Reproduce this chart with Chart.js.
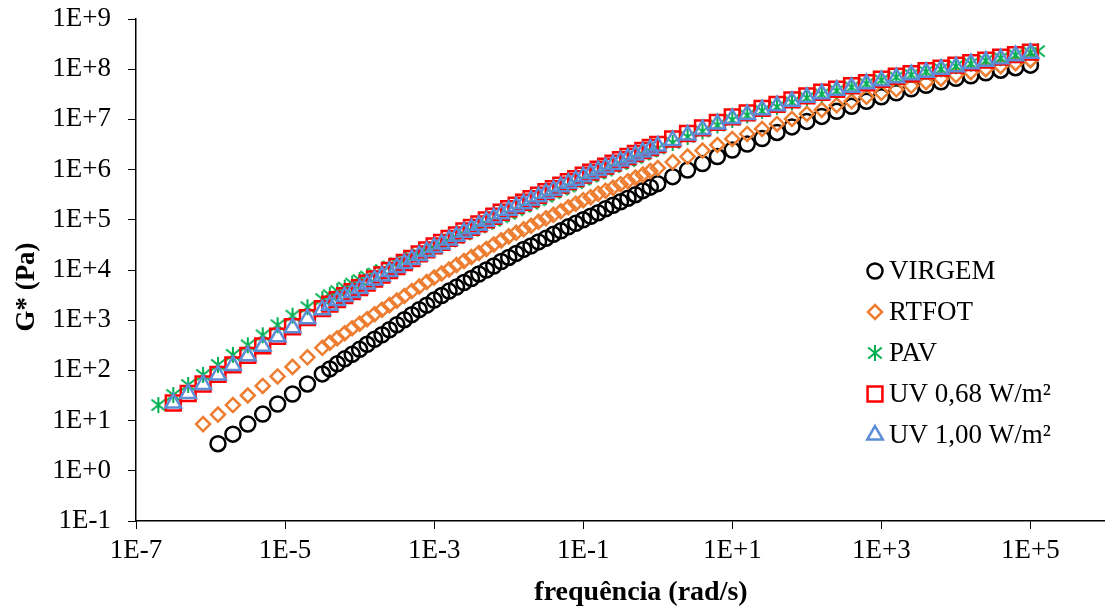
<!DOCTYPE html>
<html>
<head>
<meta charset="utf-8">
<title>G* master curves</title>
<script src="https://cdn.jsdelivr.net/npm/chart.js@4.4.1/dist/chart.umd.min.js"></script>
<style>
  html, body { margin: 0; padding: 0; background: #fff; overflow: hidden; }
  #wrap { position: relative; width: 1105px; height: 614px; }
  canvas { display: block; }
</style>
</head>
<body>
<div id="wrap"><canvas id="gChart"></canvas></div>
<script>
// values are log10 of frequency (rad/s) and log10 of G* (Pa)
const logFreqMid = [-4.4,-4.3,-4.2,-4.1,-4,-3.9,-3.8,-3.7,-3.6,-3.5,-3.4,-3.3,-3.2,-3.1,-3,-2.9,-2.8,-2.7,-2.6,-2.5,-2.4,-2.3,-2.2,-2.1,-2,-1.9,-1.8,-1.7,-1.6,-1.5,-1.4,-1.3,-1.2,-1.1,-1,-0.9,-0.8,-0.7,-0.6,-0.5,-0.4,-0.3,-0.2,-0.1,0];
const logFreqHigh = [0.2,0.4,0.6,0.8,1,1.2,1.4,1.6,1.8,2,2.2,2.4,2.6,2.8,3,3.2,3.4,3.6,3.8,4,4.2,4.4,4.6,4.8,5];
const logFreqHighPav = [0.2,0.4,0.6,0.8,1,1.2,1.4,1.6,1.8,2,2.2,2.4,2.6,2.8,3,3.2,3.4,3.6,3.8,4,4.2,4.4,4.6,4.8,5,5.1];

const logFreqVirgemLow = [-5.9,-5.7,-5.5,-5.3,-5.1,-4.9,-4.7,-4.5];
const logFreqRtfotLow = [-6.1,-5.9,-5.7,-5.5,-5.3,-5.1,-4.9,-4.7,-4.5];
const logFreqPavLow = [-6.7,-6.5,-6.3,-6.1,-5.9,-5.7,-5.5,-5.3,-5.1,-4.9,-4.7,-4.5];
const logFreqUvLow = [-6.5,-6.3,-6.1,-5.9,-5.7,-5.5,-5.3,-5.1,-4.9,-4.7,-4.5];

const logGVirgem = [0.54,0.73,0.93,1.13,1.33,1.53,1.73,1.93,
  2.03,2.13,2.23,2.32,2.42,2.52,2.62,2.71,2.81,2.91,3.01,3.11,3.21,3.30,3.40,3.49,3.58,3.66,3.75,3.83,3.92,4.00,4.08,4.17,4.25,4.33,4.41,4.48,4.56,4.63,4.71,4.78,4.86,4.93,5.00,5.07,5.14,5.22,5.29,5.36,5.43,5.50,5.58,5.65,5.72,
  5.86,5.99,6.12,6.26,6.39,6.51,6.62,6.74,6.85,6.96,7.06,7.16,7.26,7.36,7.45,7.53,7.61,7.68,7.75,7.82,7.87,7.93,7.98,8.03,8.08];
const logGRtfot = [0.93,1.12,1.31,1.50,1.69,1.88,2.07,2.26,2.45,
  2.55,2.64,2.74,2.84,2.93,3.02,3.12,3.21,3.30,3.39,3.48,3.58,3.67,3.76,3.85,3.93,4.01,4.10,4.18,4.26,4.34,4.42,4.51,4.59,4.67,4.74,4.81,4.88,4.96,5.03,5.10,5.17,5.25,5.32,5.39,5.45,5.52,5.58,5.64,5.71,5.77,5.84,5.90,5.97,6.03,
  6.15,6.26,6.38,6.49,6.61,6.71,6.81,6.91,7.01,7.11,7.19,7.28,7.36,7.45,7.53,7.60,7.67,7.74,7.81,7.88,7.94,8.00,8.06,8.12,8.18];
const logGPav = [1.31,1.51,1.71,1.91,2.11,2.31,2.50,2.70,2.90,3.09,3.26,3.42,
  3.50,3.58,3.65,3.73,3.80,3.87,3.93,4.00,4.07,4.13,4.19,4.25,4.31,4.37,4.43,4.50,4.57,4.64,4.71,4.78,4.85,4.92,4.98,5.05,5.12,5.19,5.26,5.32,5.39,5.46,5.53,5.60,5.66,5.73,5.80,5.86,5.92,5.98,6.05,6.11,6.17,6.23,6.30,6.36,6.42,
  6.53,6.65,6.76,6.88,6.99,7.08,7.17,7.25,7.34,7.43,7.50,7.57,7.64,7.71,7.78,7.84,7.89,7.95,8.00,8.06,8.11,8.17,8.22,8.28,8.33,8.36];
const logGUv068 = [1.35,1.54,1.73,1.92,2.11,2.30,2.49,2.68,2.87,3.05,3.23,
  3.32,3.41,3.49,3.57,3.65,3.74,3.82,3.90,3.99,4.07,4.15,4.23,4.32,4.40,4.48,4.55,4.63,4.70,4.78,4.85,4.92,5.00,5.07,5.15,5.22,5.29,5.35,5.42,5.49,5.56,5.62,5.69,5.76,5.82,5.89,5.95,6.01,6.07,6.13,6.20,6.26,6.32,6.38,6.44,6.50,
  6.61,6.72,6.83,6.94,7.05,7.13,7.22,7.30,7.39,7.47,7.54,7.60,7.67,7.73,7.80,7.86,7.91,7.97,8.02,8.08,8.13,8.18,8.24,8.29,8.34];
const logGUv100 = [1.35,1.54,1.72,1.91,2.10,2.29,2.48,2.67,2.85,3.03,3.21,
  3.30,3.39,3.47,3.55,3.63,3.72,3.80,3.88,3.97,4.05,4.13,4.21,4.29,4.37,4.45,4.52,4.60,4.67,4.75,4.82,4.89,4.97,5.04,5.12,5.19,5.26,5.32,5.39,5.46,5.53,5.59,5.66,5.73,5.79,5.86,5.92,5.98,6.04,6.10,6.17,6.23,6.29,6.35,6.41,6.47,
  6.58,6.69,6.80,6.91,7.02,7.10,7.19,7.27,7.36,7.44,7.51,7.58,7.64,7.71,7.77,7.83,7.89,7.94,8.00,8.05,8.11,8.16,8.21,8.27,8.32];

const seriesNames = ['VIRGEM', 'RTFOT', 'PAV', 'UV 0,68 W/m²', 'UV 1,00 W/m²'];
const yTickExps = [-1, 0, 1, 2, 3, 4, 5, 6, 7, 8, 9];
const xTickExps = [-7, -5, -3, -1, 1, 3, 5];
const xTitle = 'frequência (rad/s)';
const yTitle = 'G* (Pa)';

const FONT = '"Liberation Serif", "Times New Roman", serif';

function toPoints(logF, logG) {
  const n = Math.min(logF.length, logG.length);
  const pts = [];
  for (let i = 0; i < n; i++) {
    pts.push({ x: Math.pow(10, logF[i]), y: Math.pow(10, logG[i]) });
  }
  return pts;
}

function expLabel(v) {
  const e = Math.round(Math.log10(v));
  return '1E' + (e >= 0 ? '+' : '-') + Math.abs(e);
}

// excel style asterisk: vertical bar plus an X
function makeAsterisk(color, size, lw) {
  const c = document.createElement('canvas');
  c.width = size;
  c.height = size;
  const g = c.getContext('2d');
  const m = size / 2, r = size / 2 - 1;
  g.strokeStyle = color;
  g.lineWidth = lw;
  g.beginPath();
  g.moveTo(m, m - r); g.lineTo(m, m + r);
  g.moveTo(m - r * 0.85, m - r * 0.7); g.lineTo(m + r * 0.85, m + r * 0.7);
  g.moveTo(m - r * 0.85, m + r * 0.7); g.lineTo(m + r * 0.85, m - r * 0.7);
  g.stroke();
  return c;
}

const asterisk = makeAsterisk('#00B050', 18, 2);

const datasets = [
  { label: seriesNames[0], data: toPoints(logFreqVirgemLow.concat(logFreqMid, logFreqHigh), logGVirgem),
    pointStyle: 'circle', pointRadius: 7.5, borderColor: '#000000', order: 5 },
  { label: seriesNames[1], data: toPoints(logFreqRtfotLow.concat(logFreqMid, logFreqHigh), logGRtfot),
    pointStyle: 'rectRot', pointRadius: 7, borderColor: '#ED7D31', order: 4 },
  { label: seriesNames[2], data: toPoints(logFreqPavLow.concat(logFreqMid, logFreqHighPav), logGPav),
    pointStyle: asterisk, pointRadius: 8, borderColor: '#00B050', order: 3 },
  { label: seriesNames[3], data: toPoints(logFreqUvLow.concat(logFreqMid, logFreqHigh), logGUv068),
    pointStyle: 'rect', pointRadius: 10.5, borderColor: '#FF0000', order: 2 },
  { label: seriesNames[4], data: toPoints(logFreqUvLow.concat(logFreqMid, logFreqHigh), logGUv100),
    pointStyle: 'triangle', pointRadius: 9, borderColor: '#5B8ED6', order: 1 }
].map(ds => Object.assign(ds, {
  backgroundColor: 'rgba(0,0,0,0)',
  pointBorderWidth: 2.5,
  pointHoverRadius: ds.pointRadius,
  showLine: false
}));

function drawMarker(ctx, ds, x, y) {
  const r = ds.pointRadius;
  ctx.save();
  ctx.strokeStyle = ds.borderColor;
  ctx.lineWidth = ds.pointBorderWidth;
  ctx.beginPath();
  if (ds.pointStyle === 'circle') {
    ctx.arc(x, y, r, 0, Math.PI * 2);
  } else if (ds.pointStyle === 'rectRot') {
    ctx.moveTo(x, y - r); ctx.lineTo(x + r, y); ctx.lineTo(x, y + r); ctx.lineTo(x - r, y); ctx.closePath();
  } else if (ds.pointStyle === 'rect') {
    const s = r * Math.SQRT1_2;
    ctx.rect(x - s, y - s, 2 * s, 2 * s);
  } else if (ds.pointStyle === 'triangle') {
    ctx.moveTo(x, y - r);
    ctx.lineTo(x + r * 0.866, y + r * 0.5);
    ctx.lineTo(x - r * 0.866, y + r * 0.5);
    ctx.closePath();
  } else {
    ctx.drawImage(ds.pointStyle, x - ds.pointStyle.width / 2, y - ds.pointStyle.height / 2);
  }
  ctx.stroke();
  ctx.restore();
}

// legend sits inside the plot, axis titles are placed where excel put them
const legendAndTitles = {
  id: 'legendAndTitles',
  afterDraw(chart) {
    const ctx = chart.ctx;
    ctx.save();
    ctx.font = '27px ' + FONT;
    ctx.textBaseline = 'middle';
    ctx.fillStyle = '#000';
    chart.data.datasets.forEach((ds, i) => {
      const y = 271 + i * 41;
      drawMarker(ctx, ds, 875, y);
      ctx.fillText(ds.label, 889, y + 1);
    });

    ctx.textAlign = 'center';
    ctx.font = 'bold 28px ' + FONT;
    ctx.fillText(xTitle, 641, 593);

    ctx.translate(27, 287);
    ctx.rotate(-Math.PI / 2);
    ctx.font = 'bold 27px ' + FONT;
    ctx.fillText(yTitle, 0, 0);
    ctx.restore();
  }
};

new Chart(document.getElementById('gChart'), {
  type: 'scatter',
  data: { datasets: datasets },
  plugins: [legendAndTitles],
  options: {
    responsive: true,
    maintainAspectRatio: false,
    animation: false,
    events: [],
    layout: { autoPadding: false, padding: { top: 19, right: 0, bottom: 0, left: 0 } },
    plugins: { legend: { display: false }, tooltip: { enabled: false } },
    scales: {
      x: {
        type: 'logarithmic',
        min: 1e-7,
        max: 1e6,
        afterBuildTicks: s => { s.ticks = xTickExps.map(e => ({ value: Math.pow(10, e) })); },
        afterFit: s => { s.height = 93; s.paddingLeft = 0; s.paddingRight = 0; },
        grid: { drawOnChartArea: false, drawTicks: true, tickLength: 8, color: '#000' },
        border: { display: true, color: '#000', width: 1.5 },
        ticks: {
          autoSkip: false, maxRotation: 0, padding: 6, color: '#000',
          font: { family: FONT, size: 27 },
          callback: v => expLabel(v)
        }
      },
      y: {
        type: 'logarithmic',
        min: 0.1,
        max: 1e9,
        afterBuildTicks: s => { s.ticks = yTickExps.map(e => ({ value: Math.pow(10, e) })); },
        afterFit: s => { s.width = 136; s.paddingTop = 0; s.paddingBottom = 0; },
        grid: { drawOnChartArea: false, drawTicks: true, tickLength: 8, color: '#000' },
        border: { display: true, color: '#000', width: 1.5 },
        ticks: {
          autoSkip: false, padding: 17, color: '#000',
          font: { family: FONT, size: 27 },
          callback: v => expLabel(v)
        }
      }
    }
  }
});
</script>
</body>
</html>
